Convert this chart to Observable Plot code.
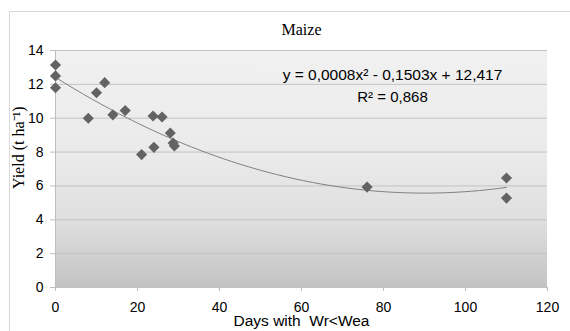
<!DOCTYPE html>
<html>
<head>
<meta charset="utf-8">
<script src="https://cdn.jsdelivr.net/npm/d3@7"></script>
<script src="https://cdn.jsdelivr.net/npm/@observablehq/plot@0.6"></script>
<style>
  html, body { margin: 0; padding: 0; background: #fff; }
  #chart svg { display: block; }
</style>
</head>
<body>
<div id="chart"></div>
<script>
// ---- data ----
const days = [0, 0, 0, 8, 10, 12, 14, 17, 21, 23.8, 24, 26, 28, 28.7, 29, 76, 110, 110];
const yieldT = [13.14, 12.5, 11.8, 10.0, 11.5, 12.1, 10.2, 10.45, 7.85, 10.13, 8.28, 10.07, 9.13, 8.54, 8.36, 5.93, 6.47, 5.28];
const xTicks = [0, 20, 40, 60, 80, 100, 120];
const yTicks = [0, 2, 4, 6, 8, 10, 12, 14];
const titleText = "Maize";
const xLabel = "Days with\u00a0 Wr<Wea";
const yLabel = "Yield (t ha\u207B\u00B9)";
const eqText = "y = 0,0008x\u00B2 - 0,1503x + 12,417";
const r2Text = "R\u00B2 = 0,868";

const data = days.map((d, i) => ({days: d, yield: yieldT[i]}));

// least-squares quadratic fit (trendline) from the data
function quadFit(xs, ys) {
  let s = [0,0,0,0,0], t = [0,0,0];
  xs.forEach((x, i) => {
    for (let k = 0; k < 5; k++) s[k] += Math.pow(x, k);
    for (let k = 0; k < 3; k++) t[k] += ys[i] * Math.pow(x, k);
  });
  const A = [[s[0], s[1], s[2], t[0]], [s[1], s[2], s[3], t[1]], [s[2], s[3], s[4], t[2]]];
  for (let i = 0; i < 3; i++) {
    for (let j = i + 1; j < 3; j++) {
      const f = A[j][i] / A[i][i];
      for (let k = i; k < 4; k++) A[j][k] -= f * A[i][k];
    }
  }
  const c = [0,0,0];
  for (let i = 2; i >= 0; i--) {
    let v = A[i][3];
    for (let k = i + 1; k < 3; k++) v -= A[i][k] * c[k];
    c[i] = v / A[i][i];
  }
  return c;
}
const coef = quadFit(days, yieldT);
const xMin = d3.min(days), xMax = d3.max(days);
const trend = d3.range(0, 101).map(i => {
  const x = xMin + (xMax - xMin) * i / 100;
  return {days: x, yield: coef[0] + coef[1] * x + coef[2] * x * x};
});

// background + outer frame
function backdrop(index, scales, values, dims) {
  const g = d3.create("svg:g");
  const defs = g.append("defs");
  const grad = defs.append("linearGradient").attr("id", "bgGrad")
    .attr("x1", 0).attr("y1", 0).attr("x2", 0).attr("y2", 1);
  [[0, "#f1f1f1"], [0.45, "#eaeaea"], [0.72, "#dfdfdf"], [1, "#c3c3c3"]].forEach(([o, c]) =>
    grad.append("stop").attr("offset", o).attr("stop-color", c));
  g.append("rect").attr("x", 9.5).attr("y", 11.5)
    .attr("width", dims.width + 20).attr("height", dims.height + 20)
    .attr("fill", "none").attr("stroke", "#d9d9d9");
  g.append("rect")
    .attr("x", dims.marginLeft).attr("y", dims.marginTop)
    .attr("width", dims.width - dims.marginLeft - dims.marginRight)
    .attr("height", dims.height - dims.marginTop - dims.marginBottom)
    .attr("fill", "url(#bgGrad)");
  return g.node();
}

const chart = Plot.plot({
  width: 570,
  height: 331,
  marginLeft: 55,
  marginRight: 23,
  marginTop: 50,
  marginBottom: 44,
  style: {fontFamily: "'Liberation Sans', Arial, sans-serif", color: "#000", background: "#fff"},
  x: {domain: [0, 120]},
  y: {domain: [0, 14]},
  marks: [
    backdrop,
    Plot.gridY(yTicks, {stroke: "#c2c2c2", strokeOpacity: 1}),
    Plot.ruleX([0], {stroke: "#bdbdbd"}),
    Plot.axisY(yTicks, {tickSize: 5, tickPadding: 7, fontSize: 14, stroke: "#bdbdbd", fill: "#000", label: null}),
    Plot.axisX(xTicks, {tickSize: 4, tickPadding: 11, fontSize: 14, stroke: "#bdbdbd", fill: "#000", label: null}),
    Plot.line(trend, {x: "days", y: "yield", stroke: "#808080", strokeWidth: 1}),
    Plot.dot(data, {x: "days", y: "yield", symbol: "diamond2", r: 5, fill: "#636363", stroke: "none"}),
    Plot.text([titleText], {frameAnchor: "top", dy: -27, fontSize: 16, fontFamily: "'Liberation Serif', serif", fill: "#000"}),
    Plot.text([eqText], {frameAnchor: "top-left", dx: 337, dy: 24.5, textAnchor: "middle", lineAnchor: "middle", fontSize: 15.5, fill: "#000"}),
    Plot.text([r2Text], {frameAnchor: "top-left", dx: 337, dy: 47, textAnchor: "middle", lineAnchor: "middle", fontSize: 15, fill: "#000"}),
    Plot.text([xLabel], {frameAnchor: "bottom", dy: 34, lineAnchor: "middle", fontSize: 15.5, fill: "#000"}),
    Plot.text([yLabel], {frameAnchor: "left", dx: -37, dy: 20, rotate: -90, lineAnchor: "middle", fontSize: 16, fontFamily: "'Liberation Serif', serif", fill: "#000"})
  ]
});
document.getElementById("chart").appendChild(chart);
</script>
</body>
</html>
